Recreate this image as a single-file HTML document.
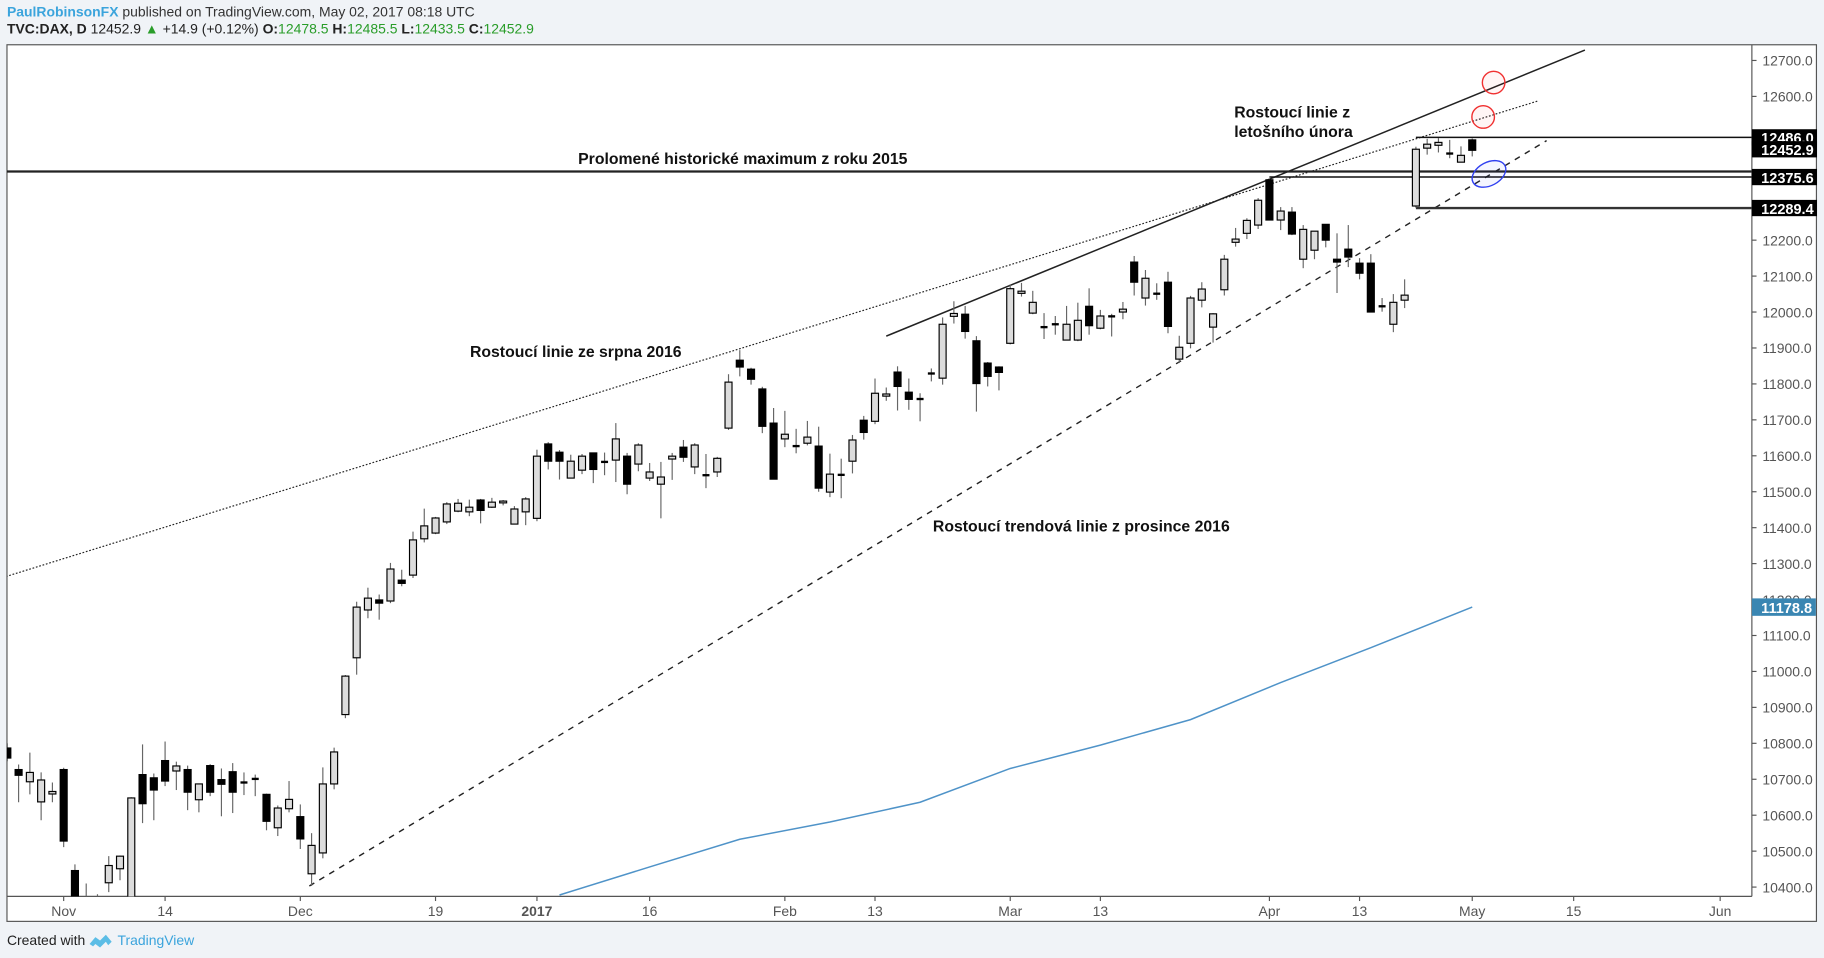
<!DOCTYPE html>
<html><head><meta charset="utf-8"><style>
html,body{margin:0;padding:0;background:#f0f3f7;}
svg{display:block;}
text{font-family:"Liberation Sans",Arial,sans-serif;}
</style></head><body>
<svg id="chart" width="1824" height="958" viewBox="0 0 1568 824" preserveAspectRatio="none" xmlns="http://www.w3.org/2000/svg">
<defs><clipPath id="plotclip"><rect x="6" y="39" width="1500" height="732"/></clipPath></defs>
<rect x="0" y="0" width="1568" height="824" fill="#f0f3f7"/>
<g>
<text x="6" y="14" font-size="12" fill="#333"><tspan fill="#3ba4dc" font-weight="bold">PaulRobinsonFX</tspan> published on TradingView.com, May 02, 2017 08:18 UTC</text>
<text x="6" y="29" font-size="12" fill="#222"><tspan font-weight="bold">TVC:DAX, D</tspan> 12452.9 <tspan fill="#2a9d2a">▲</tspan> +14.9 (+0.12%) <tspan font-weight="bold">O:</tspan><tspan fill="#2a9d2a">12478.5</tspan> <tspan font-weight="bold">H:</tspan><tspan fill="#2a9d2a">12485.5</tspan> <tspan font-weight="bold">L:</tspan><tspan fill="#2a9d2a">12433.5</tspan> <tspan font-weight="bold">C:</tspan><tspan fill="#2a9d2a">12452.9</tspan></text>
</g>
<rect x="6" y="38.5" width="1555.5" height="754" fill="#fff" stroke="#555" stroke-width="1"/>
<line x1="1506" y1="38.5" x2="1506" y2="771" stroke="#555"/>
<line x1="6" y1="771" x2="1506" y2="771" stroke="#555"/>
<g id="yaxis"></g>
<g id="xaxis"></g>
<g id="plot" clip-path="url(#plotclip)"></g>
<g id="overlay"></g>
<g>
<text x="6" y="813" font-size="12" fill="#222">Created with</text>
<path d="M77 812 l5 -6 l4 3 l5 -5 l5 6 l-3 3 l-2 -3 l-5 5 l-4 -3 l-2 2 z" fill="#5bbde6"/>
<text x="101" y="813" font-size="12" fill="#3ba4dc">TradingView</text>
</g>
</svg>
<script>
const opens=[10787,10727,10693,10637,10659,10727,10446,10350,10330,10412,10451,10200,10713,10704,10752,10723,10727,10643,10738,10699,10721,10691,10701,10658,10565,10618,10596,10437,10495,10687,10880,11038,11171,11199,11196,11254,11268,11369,11385,11416,11446,11444,11477,11457,11469,11410,11444,11426,11633,11610,11538,11560,11608,11583,11588,11599,11577,11538,11521,11591,11624,11569,11546,11555,11677,11866,11841,11786,11691,11647,11627,11635,11627,11499,11547,11585,11699,11696,11766,11833,11777,11758,11829,11816,11988,11994,11920,11858,11847,11913,12052,11997,11958,11966,11922,11922,12016,11955,11988,12000,12139,12039,12051,12083,11869,11913,12033,11958,12062,12194,12219,12242,12368,12256,12278,12147,12172,12244,12147,12175,12136,12136,12016,11966,12033,12295,12456,12464,12441,12417,12479];
const highs=[10800,10741,10774,10719,10691,10732,10463,10410,10380,10486,10488,10650,10797,10716,10805,10749,10738,10687,10742,10730,10745,10719,10713,10660,10627,10695,10630,10550,10733,10788,10990,11194,11233,11214,11302,11283,11389,11453,11430,11471,11480,11478,11480,11483,11477,11460,11485,11617,11638,11616,11603,11605,11608,11609,11691,11608,11635,11580,11583,11608,11644,11635,11605,11597,11827,11894,11845,11792,11733,11725,11675,11697,11681,11606,11592,11658,11711,11815,11790,11849,11815,11774,11843,11985,12030,12017,11933,11861,11849,12077,12081,12059,11997,11989,12017,12026,12066,12006,11995,12028,12156,12117,12080,12112,11934,12045,12083,11997,12159,12234,12261,12317,12372,12292,12292,12242,12225,12244,12219,12242,12150,12161,12039,12050,12091,12460,12482,12484,12479,12461,12483];
const lows=[10750,10636,10658,10586,10636,10511,10350,10280,10200,10386,10419,10174,10578,10586,10681,10670,10614,10608,10653,10597,10606,10656,10653,10558,10542,10608,10506,10403,10480,10672,10870,10991,11148,11144,11190,11237,11260,11359,11382,11410,11443,11432,11412,11455,11462,11409,11407,11418,11562,11534,11538,11549,11524,11546,11527,11493,11557,11530,11426,11533,11583,11549,11510,11541,11672,11821,11798,11663,11535,11624,11607,11629,11500,11485,11482,11551,11645,11688,11753,11726,11728,11696,11807,11798,11968,11926,11723,11793,11782,11910,12043,11994,11925,11937,11922,11919,11937,11952,11932,11980,12046,12018,12034,11941,11858,11899,12013,11915,12046,12182,12203,12231,12256,12228,12214,12122,12147,12180,12053,12125,12091,12000,12001,11944,12011,12290,12438,12444,12428,12417,12433];
const closes=[10759,10711,10719,10698,10666,10528,10370,10330,10260,10460,10486,10648,10632,10670,10695,10737,10664,10687,10664,10686,10664,10691,10701,10583,10620,10644,10534,10516,10687,10776,10987,11179,11204,11190,11285,11245,11366,11405,11427,11466,11468,11457,11448,11471,11474,11452,11480,11599,11585,11585,11585,11599,11562,11583,11647,11521,11630,11555,11541,11599,11596,11630,11546,11593,11805,11847,11813,11682,11535,11660,11627,11652,11510,11549,11543,11644,11665,11774,11772,11793,11757,11758,11829,11966,11996,11946,11801,11821,11832,12065,12058,12027,11954,11962,11966,11977,11962,11989,11988,12008,12083,12094,12051,11960,11902,12039,12064,11995,12147,12203,12255,12311,12256,12281,12217,12230,12225,12200,12139,12153,12108,12000,12016,12027,12047,12453,12467,12472,12441,12436,12450];
const maIdx=[49,57,65,73,81,89,97,105,113,121,130];
const maVals=[10378,10456,10533,10581,10636,10730,10795,10866,10969,11066,11179];
const priceTicks=[10400,10500,10600,10700,10800,10900,11000,11100,11200,11300,11400,11500,11600,11700,11800,11900,12000,12100,12200,12600,12700];
const xLabels=["Nov","14","Dec","19","2017","16","Feb","13","Mar","13","Apr","13","May","15","Jun"];
const xLabelIdx=[5,14,26,38,47,57,69,77,89,97,112,120,130,139,152];
const priceBoxes=[12486.0,12452.9,12375.6,12289.4];

const NS="http://www.w3.org/2000/svg";
function X(i){return 6.3+i*9.687;}
function Y(p){return 52+(12700-p)*0.30913;}
function mk(tag,attrs,parent){const e=document.createElementNS(NS,tag);for(const k in attrs)e.setAttribute(k,attrs[k]);parent.appendChild(e);return e;}
const plot=document.getElementById('plot'),yax=document.getElementById('yaxis'),xax=document.getElementById('xaxis'),ov=document.getElementById('overlay');

priceTicks.forEach(p=>{
  const t=mk('text',{x:1515,y:Y(p)+4.5,'font-size':12,fill:'#555'},yax);t.textContent=p.toFixed(1);
  
  
  mk('line',{x1:1506,x2:1510,y1:Y(p),y2:Y(p),stroke:'#555'},yax);
});
xLabels.forEach((l,k)=>{
  const x=X(xLabelIdx[k]);
  mk('line',{x1:x,x2:x,y1:771,y2:775,stroke:'#555'},xax);
  const t=mk('text',{x:x,y:788,'font-size':12,fill:'#555','text-anchor':'middle','font-weight':l==='2017'?'bold':'normal'},xax);t.textContent=l;
  
  
});

let pts=maIdx.map((i,k)=>X(i)+','+Y(maVals[k])).join(' ');
const ma=mk('polyline',{points:pts,fill:'none',stroke:'#4f93c8','stroke-width':1.3},plot);



function tl(i1,p1,i2,p2,dash,w,name){const l=mk('line',{x1:X(i1),y1:Y(p1),x2:X(i2),y2:Y(p2),stroke:'#222','stroke-width':w,'stroke-dasharray':dash},plot);
 
 }
tl(-0.13,11264,135.8,12587,'1.5,1.5',1,'trendline-aug-2016');
tl(78,11933,140,12729,'none',1.3,'trendline-feb');
tl(26.8,10403,136.6,12477,'5,5',1.2,'trendline-dec-2016');
function hl(i1,p,w,c,name){const l=mk('line',{x1:i1===null?6:X(i1),x2:1506,y1:Y(p),y2:Y(p),stroke:c,'stroke-width':w},plot);
 
 }
hl(null,12391,2,'#222','hline-2015-high');
hl(112,12375.6,1.3,'#111','hline-12375');
hl(125,12486,1.3,'#111','hline-12486');
hl(125,12289.4,2,'#333','hline-12289');

for(let i=0;i<opens.length;i++){
  const x=X(i),o=opens[i],c=closes[i];
  const g=mk('g',{},plot);
  
  
  mk('line',{x1:x,x2:x,y1:Y(highs[i]),y2:Y(lows[i]),stroke:'#666','stroke-width':1},g);
  const top=Y(Math.max(o,c)),bot=Y(Math.min(o,c));
  const up=c>=o;
  if(bot-top<1.5){mk('rect',{x:x-3,y:top-1,width:6,height:2,fill:'#000'},g);}
  else mk('rect',{x:x-3,y:top,width:6,height:bot-top,fill:up?'#dcdcdc':'#000',stroke:'#000','stroke-width':1},g);
}

[[1284,71,'red-circle-upper'],[1275,100.6,'red-circle-lower']].forEach(a=>{
  const c=mk('circle',{cx:a[0],cy:a[1],r:9.7,fill:'rgba(255,0,0,0.04)',stroke:'#f03030','stroke-width':1.2},ov);
  
  
});
const el=mk('ellipse',{cx:1280,cy:149.6,rx:15.5,ry:10,transform:'rotate(-28 1280 149.6)',fill:'rgba(60,90,255,0.06)',stroke:'#3040f0','stroke-width':1.2},ov);


function label(x,y,s,name){const t=mk('text',{x:x,y:y,'font-size':13.6,'font-weight':'bold',fill:'#111'},ov);t.textContent=s;
 
 }
label(497,141,'Prolomené historické maximum z roku 2015','label-2015-high');
label(404,307,'Rostoucí linie ze srpna 2016','label-aug-2016');
label(802,457,'Rostoucí trendová linie z prosince 2016','label-dec-2016');
label(1061,101,'Rostoucí linie z','label-feb-line-1');
label(1061,118,'letošního února','label-feb-line-2');

priceBoxes.forEach(p=>{
  const g=mk('g',{},ov);
  
  
  mk('rect',{x:1506,y:Y(p)-7,width:56,height:14,fill:'#000'},g);
  const t=mk('text',{x:1514,y:Y(p)+5,'font-size':12.5,'font-weight':'bold',fill:'#fff'},g);t.textContent=p.toFixed(1);
});
const bg=mk('g',{},ov);


mk('rect',{x:1506,y:Y(maVals[maVals.length-1])-7.5,width:55,height:15,fill:'#3a86b2'},bg);
const bt=mk('text',{x:1514,y:Y(maVals[maVals.length-1])+5,'font-size':12.5,'font-weight':'bold',fill:'#fff'},bg);
bt.textContent='11178.8';
</script>
</body></html>
